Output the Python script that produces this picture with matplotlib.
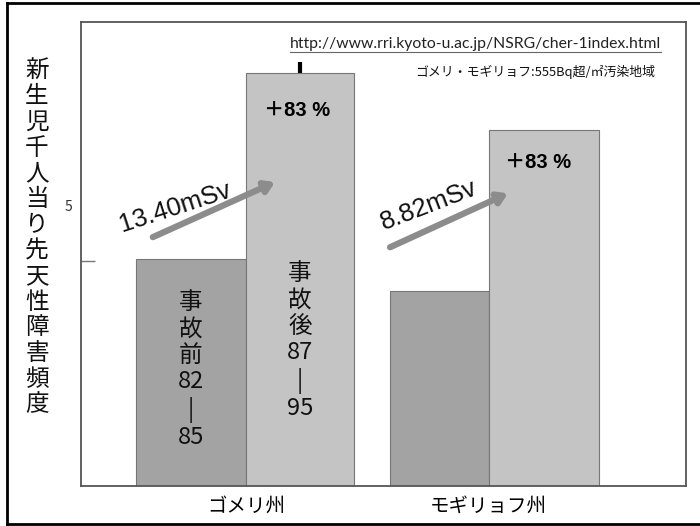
import matplotlib
matplotlib.use("Agg")
import matplotlib.pyplot as plt
from matplotlib.lines import Line2D

plt.rcParams['font.family'] = ['Noto Sans CJK JP', 'DejaVu Sans']

# data
regions = ["ゴメリ州", "モギリョフ州"]
before = [4.04, 3.47]          # 事故前 (82-85)
after = [7.35, 6.33]           # 事故後 (87-95)
after_err_top = [0.19, 0.0]
doses = ["13.40mSv", "8.82mSv"]
increase = ["＋83 %", "＋83 %"]
before_label = "事\n故\n前\n82\n|\n85"
after_label = "事\n故\n後\n87\n|\n95"
ylabel = "新生児千人当り先天性障害頻度"
source_url = "http://www.rri.kyoto-u.ac.jp/NSRG/cher-1index.html"
subtitle = "ゴメリ・モギリョフ:555Bq超/㎡汚染地域"
yticks = [5]
yticklabels = ["5"]

W, H = 700, 526
fig = plt.figure(figsize=(W / 100, H / 100), dpi=100)
ax = fig.add_axes([81 / W, 1 - 486 / H, 605 / W, 464 / H])

x = list(range(len(regions)))
before_w = [0.455, 0.405]
after_w = [0.445, 0.455]

ax.bar(x, before, width=[-w for w in before_w], align='edge',
       color='#a3a3a3', edgecolor='#777777', linewidth=0.8)
ax.bar(x, after, width=after_w, align='edge',
       color='#c4c4c4', edgecolor='#777777', linewidth=0.8)

# visible upper part of the error bar on the first "after" bar
ax.errorbar([x[0] + after_w[0] / 2], [after[0]],
            yerr=[[0], [after_err_top[0]]], fmt='none',
            ecolor='black', elinewidth=3, capsize=0)

ax.set_xlim(-0.68, 1.814)
ax.set_ylim(0, 8.26)

ax.set_xticks(x)
ax.set_xticklabels(regions, fontsize=14)
ax.tick_params(axis='x', length=0, pad=7)
ax.set_yticks(yticks)
ax.set_yticklabels(yticklabels, fontsize=10, color='#333333')
ax.tick_params(axis='y', which='major', length=0, pad=6)
ax.set_yticks([4], minor=True)
ax.tick_params(axis='y', which='minor', direction='in', length=10,
               color='#777777', width=1)

for s in ax.spines.values():
    s.set_color('#555555')
    s.set_linewidth(1.3)

# labels inside the bars
ax.text(x[0] - before_w[0] / 2, 2.06, before_label, ha='center', va='center',
        fontsize=17, linespacing=1.19, color='#111111')
ax.text(x[0] + after_w[0] / 2, 2.58, after_label, ha='center', va='center',
        fontsize=17, linespacing=1.19, color='#111111')

# percentage increase on top of "after" bars
inc_pos = [(0.21, 6.69), (1.204, 5.75)]
for (px, py), t in zip(inc_pos, increase):
    ax.text(px, py, t, ha='center', va='center', fontsize=14.5,
            fontweight='bold', family=['Liberation Sans', 'Noto Sans CJK JP'])

# dose arrows
arrows = [((-0.384, 4.43), (0.120, 5.41)), ((0.594, 4.25), (1.080, 5.21))]
for (p0, p1) in arrows:
    ax.annotate("", xy=p1, xytext=p0,
                arrowprops=dict(arrowstyle='-|>,head_length=0.55,head_width=0.35',
                                color='#8c8c8c', lw=4.5, shrinkA=0, shrinkB=0))
dose_pos = [(-0.293, 4.96, 18), (0.755, 5.0, 21)]
for (px, py, rot), t in zip(dose_pos, doses):
    ax.text(px, py, t, ha='center', va='center', fontsize=18.5, rotation=rot,
            family='Liberation Sans', color='#111111')

# y label written vertically
fig.text(37 / W, 1 - 238 / H, "\n".join(ylabel), ha='center', va='center',
         fontsize=17, linespacing=1.15, color='#111111')

# source and subtitle
url = fig.text(290 / W, 1 - 44 / H, source_url, ha='left', va='center',
               fontsize=11.3, family='Lato', color='#222222')
fig.text(415 / W, 1 - 72 / H, subtitle, ha='left', va='center',
         fontsize=9.3, color='#111111')

fig.canvas.draw()
bb = url.get_window_extent()
fig.add_artist(Line2D([bb.x0 / W, bb.x1 / W], [(bb.y0 - 1) / H] * 2,
                      transform=fig.transFigure, color='#666666', lw=0.8))

# outer frame
frame_kw = dict(transform=fig.transFigure, color='black', lw=2)
fig.add_artist(Line2D([7 / W, 1], [1 - 3 / H] * 2, **frame_kw))
fig.add_artist(Line2D([7 / W, 1], [1 - 524 / H] * 2, **frame_kw))
fig.add_artist(Line2D([7 / W] * 2, [1 - 3 / H, 1 - 524 / H], **frame_kw))

fig.savefig("out.png", dpi=100)
